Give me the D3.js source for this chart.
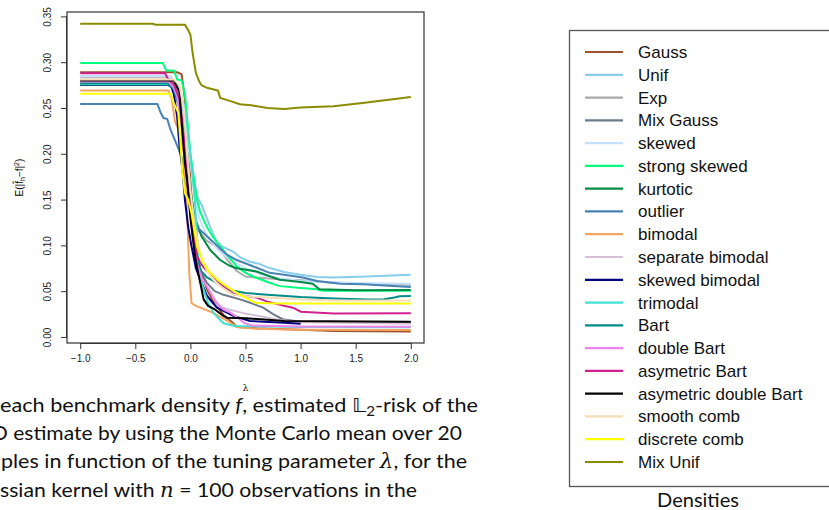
<!DOCTYPE html>
<html lang="en">
<head>
<meta charset="UTF-8">
<title>L2-risk vs lambda</title>
<script src="https://d3js.org/d3.v7.min.js"></script>
<style>
  body { margin: 0; background: #fff; }
  svg { display: block; }
  .axis text { font-family: "Liberation Sans", Arial, sans-serif; font-size: 10px; fill: #222; }
  .legend text { font-family: "Liberation Sans", Arial, sans-serif; font-size: 17px; fill: #111; }
  .caption { font-family: Lato, "Open Sans", sans-serif; font-size: 20px; fill: #111; }
</style>
</head>
<body>
<div id="chart"></div>
<script>
// densities, in drawing order (legend order)
const densityNames = ["Gauss", "Unif", "Exp", "Mix Gauss", "skewed", "strong skewed", "kurtotic",
  "outlier", "bimodal", "separate bimodal", "skewed bimodal", "trimodal", "Bart", "double Bart",
  "asymetric Bart", "asymetric double Bart", "smooth comb", "discrete comb", "Mix Unif"];
const densityColors = ["#a0522d", "#87ceeb", "#a9a9a9", "#6c7b8b", "#c6e2ff", "#00ff7f", "#008b45",
  "#4682b4", "#f4a460", "#d8bfd8", "#000080", "#40e0d0", "#008b8b", "#ee82ee",
  "#d02090", "#000000", "#f5deb3", "#ffff00", "#8b8b00"];

// [lambda, risk]
const gauss = [[-1,0.289],[-0.12,0.289],[-0.08,0.287],[-0.05,0.26],[-0.02,0.21],[0.0,0.17],[0.03,0.12],[0.06,0.09],[0.1,0.07],[0.15,0.052],[0.2,0.04],[0.3,0.024],[0.38,0.016],[0.42,0.011],[0.6,0.0095],[1.0,0.008],[1.3,0.0065],[2.0,0.006]];
const unif = [[-1,0.279],[-0.15,0.279],[-0.1,0.27],[-0.06,0.25],[-0.02,0.21],[0.02,0.18],[0.06,0.153],[0.1,0.145],[0.18,0.12],[0.24,0.103],[0.3,0.098],[0.39,0.093],[0.45,0.087],[0.54,0.082],[0.62,0.08],[0.7,0.076],[0.85,0.071],[1.0,0.068],[1.15,0.0655],[1.3,0.065],[1.6,0.066],[2.0,0.068]];
const expo = [[-1,0.284],[-0.18,0.284],[-0.14,0.278],[-0.1,0.265],[-0.06,0.24],[-0.03,0.2],[0.0,0.16],[0.04,0.13],[0.08,0.115],[0.15,0.105],[0.22,0.1],[0.27,0.095],[0.33,0.085],[0.42,0.072],[0.5,0.066],[0.6,0.065],[0.8,0.063],[1.0,0.062],[1.2,0.06],[1.5,0.058],[2.0,0.057]];
const mixGauss = [[-1,0.276],[-0.15,0.276],[-0.1,0.26],[-0.06,0.22],[-0.03,0.18],[0.0,0.14],[0.04,0.1],[0.08,0.075],[0.15,0.059],[0.22,0.05],[0.3,0.046],[0.45,0.041],[0.55,0.037],[0.66,0.032],[0.75,0.025],[0.81,0.021],[0.85,0.019],[1.0,0.0165],[2.0,0.016]];
const skewed = [[-1,0.285],[-0.2,0.285],[-0.15,0.28],[-0.1,0.27],[-0.05,0.24],[0.0,0.19],[0.04,0.155],[0.08,0.13],[0.15,0.11],[0.25,0.095],[0.35,0.085],[0.5,0.075],[0.7,0.066],[1.0,0.061],[1.5,0.059],[2.0,0.058]];
const strongSkewed = [[-1,0.299],[-0.25,0.299],[-0.22,0.291],[-0.15,0.291],[-0.12,0.281],[-0.08,0.28],[-0.05,0.265],[-0.03,0.24],[0.0,0.2],[0.03,0.175],[0.06,0.15],[0.09,0.136],[0.15,0.12],[0.2,0.11],[0.27,0.099],[0.33,0.09],[0.42,0.077],[0.5,0.07],[0.57,0.066],[0.7,0.06],[0.81,0.0555],[1.0,0.0535],[1.15,0.052],[1.2,0.0505],[1.5,0.0505],[2.0,0.0505]];
const kurtotic = [[-1,0.275],[-0.2,0.275],[-0.16,0.272],[-0.1,0.26],[-0.06,0.23],[-0.03,0.19],[0.0,0.16],[0.04,0.13],[0.1,0.11],[0.18,0.095],[0.27,0.084],[0.35,0.078],[0.42,0.075],[0.6,0.0715],[0.81,0.0625],[1.0,0.06],[1.11,0.058],[1.17,0.052],[1.5,0.051],[2.0,0.0512]];
const outlier = [[-1,0.2544],[-0.3,0.2544],[-0.27,0.245],[-0.245,0.239],[-0.21,0.238],[-0.18,0.226],[-0.155,0.219],[-0.12,0.209],[-0.09,0.2],[-0.06,0.19],[-0.03,0.17],[0.0,0.15],[0.06,0.12],[0.15,0.11],[0.24,0.1],[0.33,0.09],[0.42,0.084],[0.55,0.078],[0.72,0.07],[0.85,0.068],[1.02,0.065],[1.15,0.061],[1.36,0.058],[1.57,0.0575],[1.72,0.0565],[2.0,0.0545]];
const bimodal = [[-1,0.269],[-0.2,0.269],[-0.17,0.26],[-0.14,0.235],[-0.1,0.225],[-0.06,0.2],[-0.03,0.135],[-0.01,0.07],[0.01,0.037],[0.05,0.034],[0.09,0.032],[0.15,0.029],[0.21,0.026],[0.27,0.022],[0.33,0.018],[0.42,0.011],[0.6,0.009],[1.0,0.008],[2.0,0.0075]];
const separateBimodal = [[-1,0.281],[-0.18,0.281],[-0.12,0.275],[-0.08,0.25],[-0.05,0.21],[-0.02,0.16],[0.02,0.11],[0.06,0.075],[0.1,0.055],[0.15,0.044],[0.2,0.037],[0.27,0.033],[0.35,0.03],[0.48,0.026],[0.66,0.022],[0.81,0.0185],[1.0,0.016],[2.0,0.0145]];
const skewedBimodal = [[-1,0.2755],[-0.18,0.2755],[-0.15,0.265],[-0.12,0.24],[-0.1,0.21],[-0.07,0.18],[-0.05,0.15],[-0.02,0.12],[0.01,0.099],[0.05,0.075],[0.09,0.0626],[0.15,0.045],[0.24,0.032],[0.39,0.023],[0.54,0.0175],[0.85,0.0155],[1.0,0.0145]];
const trimodal = [[-1,0.276],[-0.15,0.276],[-0.1,0.27],[-0.05,0.25],[-0.02,0.22],[0.0,0.2],[0.04,0.15],[0.07,0.09],[0.1,0.06],[0.15,0.04],[0.21,0.026],[0.3,0.015],[0.4,0.012],[1.0,0.011],[2.0,0.0105]];
const bart = [[-1,0.277],[-0.2,0.277],[-0.15,0.27],[-0.1,0.25],[-0.06,0.21],[-0.03,0.17],[0.0,0.14],[0.04,0.1],[0.09,0.073],[0.15,0.065],[0.24,0.059],[0.3,0.055],[0.39,0.0505],[0.5,0.048],[0.7,0.046],[1.0,0.0435],[1.3,0.042],[1.6,0.041],[1.75,0.041],[1.85,0.043],[1.9,0.0445],[2.0,0.0446]];
const doubleBart = [[-1,0.279],[-0.2,0.279],[-0.15,0.272],[-0.12,0.262],[-0.09,0.24],[-0.05,0.2],[-0.02,0.16],[0.02,0.11],[0.06,0.08],[0.1,0.065],[0.15,0.055],[0.24,0.037],[0.3,0.03],[0.36,0.0266],[0.42,0.022],[0.48,0.016],[0.55,0.0125],[1.0,0.0115],[2.0,0.0112]];
const asymBart = [[-1,0.288],[-0.23,0.288],[-0.2,0.281],[-0.15,0.276],[-0.1,0.26],[-0.06,0.22],[-0.03,0.17],[0.0,0.14],[0.03,0.11],[0.06,0.088],[0.1,0.079],[0.15,0.072],[0.21,0.066],[0.27,0.058],[0.33,0.052],[0.39,0.047],[0.48,0.045],[0.6,0.043],[0.7,0.0386],[0.85,0.034],[0.93,0.032],[1.0,0.0276],[1.3,0.0256],[2.0,0.0258]];
const asymDoubleBart = [[-1,0.28],[-0.15,0.28],[-0.1,0.268],[-0.07,0.22],[-0.05,0.19],[-0.03,0.172],[0.0,0.13],[0.04,0.09],[0.07,0.07],[0.09,0.059],[0.12,0.041],[0.16,0.034],[0.21,0.031],[0.3,0.023],[0.33,0.021],[0.5,0.0205],[0.85,0.0175],[2.0,0.0165]];
const smoothComb = [[-1,0.281],[-0.15,0.281],[-0.1,0.275],[-0.06,0.25],[-0.03,0.2],[0.0,0.16],[0.04,0.12],[0.09,0.09],[0.15,0.072],[0.21,0.062],[0.3,0.053],[0.39,0.046],[0.55,0.044],[0.7,0.043],[1.0,0.041],[1.3,0.0398],[2.0,0.0397]];
const discreteComb = [[-1,0.2656],[-0.2,0.2656],[-0.18,0.2656],[-0.15,0.255],[-0.11,0.245],[-0.09,0.212],[-0.075,0.183],[-0.05,0.157],[-0.02,0.15],[0.01,0.135],[0.06,0.099],[0.12,0.08],[0.18,0.07],[0.25,0.062],[0.33,0.055],[0.48,0.044],[0.6,0.037],[0.8,0.0365],[2.0,0.0364]];
const mixUnif = [[-1,0.342],[-0.34,0.342],[-0.32,0.341],[-0.05,0.341],[-0.02,0.335],[0.0,0.33],[0.02,0.31],[0.05,0.288],[0.08,0.279],[0.1,0.275],[0.15,0.272],[0.22,0.27],[0.25,0.269],[0.27,0.261],[0.35,0.258],[0.45,0.254],[0.55,0.253],[0.7,0.25],[0.85,0.249],[1.0,0.2505],[1.3,0.252],[1.6,0.256],[1.8,0.259],[2.0,0.262]];

const seriesValues = [gauss, unif, expo, mixGauss, skewed, strongSkewed, kurtotic, outlier, bimodal,
  separateBimodal, skewedBimodal, trimodal, bart, doubleBart, asymBart, asymDoubleBart,
  smoothComb, discreteComb, mixUnif];

const xTicks = [-1.0, -0.5, 0.0, 0.5, 1.0, 1.5, 2.0];
const yTicks = [0.00, 0.05, 0.10, 0.15, 0.20, 0.25, 0.30, 0.35];

const W = 829, H = 510;
const box = { left: 67, right: 424, top: 12, bottom: 343 };

const svg = d3.select("#chart").append("svg")
  .attr("width", W).attr("height", H);

// R-style 4% padding on the data range
const x = d3.scaleLinear().domain([-1.12, 2.12]).range([box.left, box.right]);
const y = d3.scaleLinear().domain([-0.0066, 0.3548]).range([box.bottom, box.top]);

// lines
const line = d3.line().x(d => x(d[0])).y(d => y(d[1]));
svg.append("g")
  .selectAll("path")
  .data(seriesValues)
  .join("path")
  .attr("d", line)
  .attr("fill", "none")
  .attr("stroke", (d, i) => densityColors[i])
  .attr("stroke-width", 2)
  .attr("stroke-linejoin", "round");

// frame
svg.append("rect")
  .attr("x", box.left).attr("y", box.top)
  .attr("width", box.right - box.left).attr("height", box.bottom - box.top)
  .attr("fill", "none").attr("stroke", "#333").attr("stroke-width", 1.2);

// x axis
const xAxis = svg.append("g").attr("class", "axis")
  .attr("transform", `translate(0,${box.bottom})`)
  .call(d3.axisBottom(x).tickValues(xTicks).tickFormat(d3.format(".1f")).tickSize(6).tickPadding(6));
xAxis.select(".domain").attr("d", `M${x(-1)},0.5H${x(2)}`).attr("stroke", "#333");
xAxis.selectAll(".tick line").attr("stroke", "#333");

// y axis, rotated labels like R
const yAxis = svg.append("g").attr("class", "axis")
  .attr("transform", `translate(${box.left},0)`)
  .call(d3.axisLeft(y).tickValues(yTicks).tickFormat(d3.format(".2f")).tickSize(6));
yAxis.select(".domain").attr("d", `M-0.5,${y(0)}V${y(0.35)}`).attr("stroke", "#333");
yAxis.selectAll(".tick line").attr("stroke", "#333");
yAxis.selectAll(".tick text")
  .attr("x", 0).attr("dy", null)
  .attr("text-anchor", "middle")
  .attr("transform", "translate(-20,0) rotate(-90)")
  .attr("dominant-baseline", "central");

// axis titles
svg.append("text")
  .attr("x", x(0.5)).attr("y", 391)
  .attr("text-anchor", "middle")
  .style("font-family", "'DejaVu Serif', serif").style("font-size", "9px")
  .text("λ");

const ylab = svg.append("text")
  .attr("transform", `translate(23,${(box.top + box.bottom) / 2}) rotate(-90)`)
  .attr("text-anchor", "middle")
  .style("font-family", "'Liberation Sans', Arial, sans-serif").style("font-size", "10px");
ylab.append("tspan").text("E(|f\u0302");
ylab.append("tspan").attr("font-size", "7px").attr("dy", 2).text("h");
ylab.append("tspan").attr("dy", -2).text("\u2212f|");
ylab.append("tspan").attr("font-size", "7px").attr("dy", -4).text("2");
ylab.append("tspan").attr("dy", 4).text(")");

// legend
const legend = svg.append("g").attr("class", "legend");
legend.append("rect")
  .attr("x", 569.5).attr("y", 30.5).attr("width", 280).attr("height", 456)
  .attr("fill", "none").attr("stroke", "#555").attr("stroke-width", 1.3);
const ly = d3.scalePoint().domain(densityNames).range([52, 462]);
const items = legend.selectAll("g.item").data(densityNames).join("g").attr("class", "item");
items.append("line")
  .attr("x1", 585).attr("x2", 623)
  .attr("y1", d => ly(d)).attr("y2", d => ly(d))
  .attr("stroke", (d, i) => densityColors[i]).attr("stroke-width", 2.2);
items.append("text")
  .attr("x", 638).attr("y", d => ly(d) + 6)
  .text(d => d);

svg.append("text").attr("class", "caption")
  .attr("x", 698).attr("y", 507).attr("text-anchor", "middle")
  .text("Densities");

// caption, clipped on the left like the source slide
const cap = svg.append("g").attr("class", "caption");
const c1 = cap.append("text").attr("x", 0).attr("y", 412).attr("textLength", 478).attr("lengthAdjust", "spacingAndGlyphs");
c1.append("tspan").text("each benchmark density ");
c1.append("tspan").attr("font-style", "italic").text("f");
c1.append("tspan").text(", estimated ");
c1.append("tspan").style("font-family", "'DejaVu Sans', sans-serif").text("\u{1D543}");
c1.append("tspan").attr("font-size", "14px").attr("dy", 4).text("2");
c1.append("tspan").attr("dy", -4).text("-risk of the");

cap.append("text").attr("x", -9).attr("y", 440).attr("textLength", 471).attr("lengthAdjust", "spacingAndGlyphs")
  .text("O estimate by using the Monte Carlo mean over 20");

const c3 = cap.append("text").attr("x", 1).attr("y", 468).attr("textLength", 466).attr("lengthAdjust", "spacingAndGlyphs");
c3.append("tspan").text("ples in function of the tuning parameter ");
c3.append("tspan").attr("font-style", "italic").style("font-family", "'DejaVu Serif', serif").text("λ");
c3.append("tspan").text(", for the");

const c4 = cap.append("text").attr("x", 0).attr("y", 497).attr("textLength", 417).attr("lengthAdjust", "spacingAndGlyphs");
c4.append("tspan").text("ssian kernel with ");
c4.append("tspan").attr("font-style", "italic").style("font-family", "'DejaVu Serif', serif").text("n");
c4.append("tspan").text(" = 100 observations in the");
</script>
</body>
</html>
